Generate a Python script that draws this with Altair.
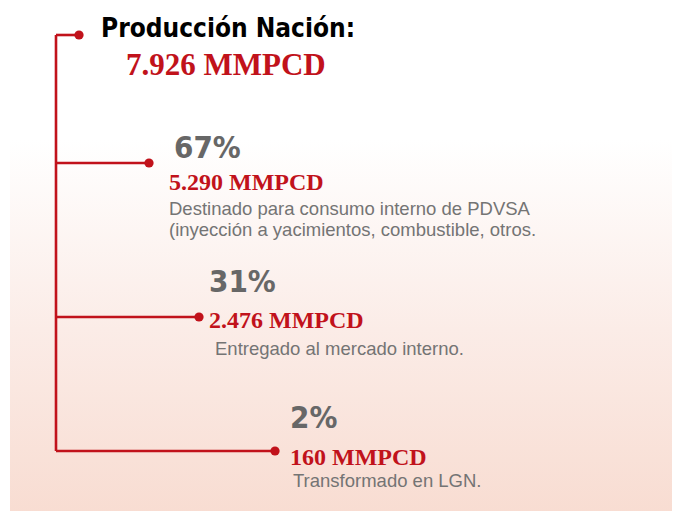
import altair as alt
import pandas as pd

# ---------------- data ----------------
title_label = "Producción Nación:"
total_label = "7.926 MMPCD"
percents = ["67%", "31%", "2%"]
volumes = ["5.290 MMPCD", "2.476 MMPCD", "160 MMPCD"]
descriptions = [
    ["Destinado para consumo interno de PDVSA",
     "(inyección a yacimientos, combustible, otros."],
    ["Entregado al mercado interno."],
    ["Transformado en LGN."],
]

# ---------------- layout (pixel-like units of the canvas) ----------------
W, H = 664, 503
X0, Y0 = 8, 8
trunk_x = 56
top_y = 35
branch_y = [163, 317, 451]
dot_x = [149, 199, 275]
pct_x = [174, 209, 290]
pct_base = [158, 292, 428]
vol_x = [169, 209, 290]
vol_base = [190, 328, 465]
desc_x = [169, 215, 293]
desc_base = [215, 355, 487]
desc_step = 21

RED = "#c1121b"
GRAY_PCT = "#676767"
GRAY_TXT = "#747474"

xs = alt.Scale(domain=[X0, X0 + W], nice=False, zero=False)
ys = alt.Scale(domain=[Y0 + H, Y0], nice=False, zero=False)

def X(f):
    return alt.X(f, type="quantitative", scale=xs, axis=None)

def Y(f):
    return alt.Y(f, type="quantitative", scale=ys, axis=None)

# background gradient
bg = pd.DataFrame({"x": [10], "x2": [680], "y": [140], "y2": [519]})
bg_layer = alt.Chart(bg).mark_rect(
    fill={"gradient": "linear", "x1": 0, "y1": 0, "x2": 0, "y2": 1,
          "stops": [{"offset": 0, "color": "#ffffff"},
                    {"offset": 0.5, "color": "#fbece7"},
                    {"offset": 1, "color": "#f8dcd1"}]},
    clip=False,
).encode(x=X("x"), x2="x2", y=Y("y"), y2="y2")

# connector lines
segs = pd.DataFrame({
    "x": [trunk_x, trunk_x] + [trunk_x] * 3,
    "x2": [trunk_x, 79] + dot_x,
    "y": [top_y, top_y] + branch_y,
    "y2": [branch_y[-1], top_y] + branch_y,
})
line_layer = alt.Chart(segs).mark_rule(color=RED, strokeWidth=2.6).encode(
    x=X("x"), x2="x2", y=Y("y"), y2="y2")

dots = pd.DataFrame({"x": [79] + dot_x, "y": [top_y] + branch_y})
dot_layer = alt.Chart(dots).mark_circle(color=RED, opacity=1, size=85).encode(
    x=X("x"), y=Y("y"))

# texts
title_df = pd.DataFrame({"x": [101], "y": [37], "t": [title_label]})
title_layer = alt.Chart(title_df).mark_text(
    align="left", baseline="alphabetic", font="DejaVu Sans Condensed",
    fontWeight="bold", fontSize=26, color="#000000"
).encode(x=X("x"), y=Y("y"), text="t")

total_df = pd.DataFrame({"x": [126], "y": [75], "t": [total_label]})
total_layer = alt.Chart(total_df).mark_text(
    align="left", baseline="alphabetic", font="Liberation Serif",
    fontWeight="bold", fontSize=31, color=RED
).encode(x=X("x"), y=Y("y"), text="t")

pct_df = pd.DataFrame({"x": pct_x, "y": pct_base, "t": percents})
pct_layer = alt.Chart(pct_df).mark_text(
    align="left", baseline="alphabetic", font="DejaVu Sans Condensed",
    fontWeight="bold", fontSize=31, color=GRAY_PCT
).encode(x=X("x"), y=Y("y"), text="t")

vol_df = pd.DataFrame({"x": vol_x, "y": vol_base, "t": volumes})
vol_layer = alt.Chart(vol_df).mark_text(
    align="left", baseline="alphabetic", font="Liberation Serif",
    fontWeight="bold", fontSize=24, color=RED
).encode(x=X("x"), y=Y("y"), text="t")

rows = []
for i, lines in enumerate(descriptions):
    for j, line in enumerate(lines):
        rows.append({"x": desc_x[i], "y": desc_base[i] + j * desc_step, "t": line})
desc_df = pd.DataFrame(rows)
desc_layer = alt.Chart(desc_df).mark_text(
    align="left", baseline="alphabetic", font="Liberation Sans",
    fontSize=18.5, color=GRAY_TXT
).encode(x=X("x"), y=Y("y"), text="t")

chart = alt.layer(
    bg_layer, line_layer, dot_layer, title_layer, total_layer,
    pct_layer, vol_layer, desc_layer
).properties(width=W, height=H, padding=0, autosize="none").configure_view(
    stroke=None
)

chart.save("out.html", embed_options={"renderer": "svg", "actions": False})
